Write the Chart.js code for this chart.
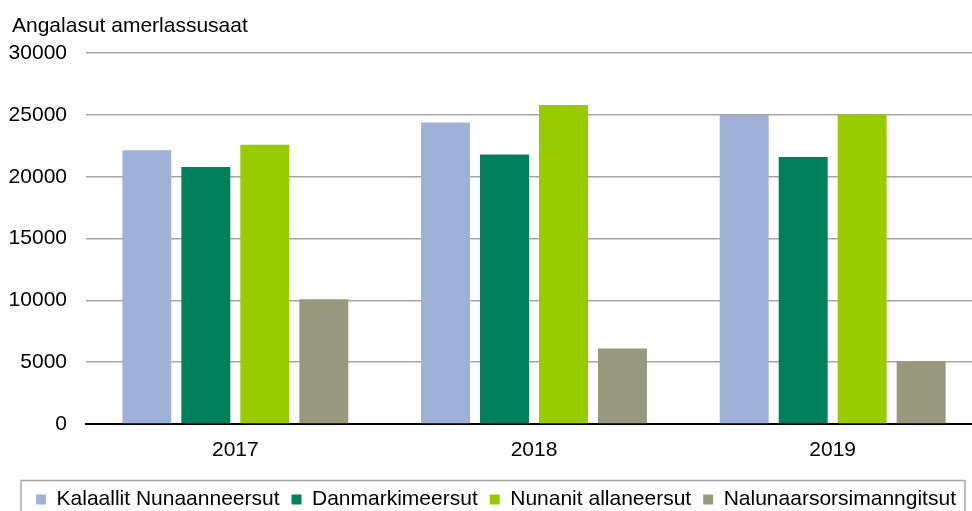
<!DOCTYPE html>
<html>
<head>
<meta charset="utf-8">
<script src="https://cdn.jsdelivr.net/npm/chart.js@4/dist/chart.umd.min.js"></script>
<style>
    html, body { margin: 0; padding: 0; background: #fff; overflow: hidden; }
    #wrap { width: 982px; height: 520px; }
</style>
</head>
<body>
<div id="wrap"><canvas id="chart" width="982" height="520"></canvas></div>
<script>
    // values
    const years = ['2017', '2018', '2019'];
    const kalaallit = [22150, 24400, 25000];
    const danmarki = [20800, 21800, 21600];
    const nunanit = [22600, 25800, 25050];
    const nalunaar = [10100, 6100, 5100];

    const seriesNames = ['Kalaallit Nunaanneersut', 'Danmarkimeersut', 'Nunanit allaneersut', 'Nalunaarsorsimanngitsut'];
    const seriesColors = ['#9fb1d6', '#00805a', '#99cc00', '#97997e'];
    const yTicks = [0, 5000, 10000, 15000, 20000, 25000, 30000];

    const FONT = "'Liberation Sans', Arial, sans-serif";

    // nudge the title in from the left edge, shift the legend a bit right and frame it
    const layoutTweaks = {
        id: 'layoutTweaks',
        afterLayout: function(chart) {
            if (chart.titleBlock) chart.titleBlock.left = 12;
            if (chart.legend) {
                chart.legend.left += 5;
                chart.legend.right += 5;
            }
        },
        afterDraw: function(chart) {
            const lg = chart.legend;
            if (!lg || !lg.legendHitBoxes || !lg.legendHitBoxes.length) return;
            let minX = Infinity, maxX = -Infinity, top = Infinity;
            lg.legendHitBoxes.forEach(function(b) {
                minX = Math.min(minX, b.left);
                maxX = Math.max(maxX, b.left + b.width);
                top = Math.min(top, b.top);
            });
            const ctx = chart.ctx;
            ctx.save();
            ctx.strokeStyle = '#a6a6a6';
            ctx.lineWidth = 1.5;
            ctx.strokeRect(minX - 15, top - 8.5, (maxX + 9) - (minX - 15), 60);
            ctx.restore();
        }
    };

    const datasets = [kalaallit, danmarki, nunanit, nalunaar].map(function(vals, i) {
        return {
            label: seriesNames[i],
            data: vals,
            backgroundColor: seriesColors[i],
            borderWidth: 0,
            categoryPercentage: 0.79,
            barPercentage: 0.83
        };
    });

    new Chart(document.getElementById('chart'), {
        type: 'bar',
        data: { labels: years, datasets: datasets },
        plugins: [layoutTweaks],
        options: {
            responsive: false,
            animation: false,
            devicePixelRatio: 1,
            layout: { padding: { left: 0, right: 0, top: 14, bottom: 0 } },
            plugins: {
                tooltip: { enabled: false },
                title: {
                    display: true,
                    text: 'Angalasut amerlassusaat',
                    align: 'start',
                    color: '#000',
                    font: { family: FONT, size: 21, weight: 'normal', lineHeight: 1.2 },
                    padding: { top: 0, bottom: 14 }
                },
                legend: {
                    position: 'bottom',
                    labels: {
                        color: '#000',
                        font: { family: FONT, size: 21 },
                        boxWidth: 10,
                        boxHeight: 10,
                        padding: 12
                    }
                }
            },
            scales: {
                x: {
                    afterFit: function(scale) { scale.height = 53; },
                    grid: { display: false, drawTicks: false },
                    border: { color: '#000', width: 2 },
                    ticks: {
                        color: '#000',
                        padding: 14,
                        font: { family: FONT, size: 21 }
                    }
                },
                y: {
                    min: 0,
                    max: 30000,
                    afterFit: function(scale) { scale.width = 86; },
                    afterBuildTicks: function(scale) {
                        scale.ticks = yTicks.map(function(v) { return { value: v }; });
                    },
                    grid: { color: '#a6a6a6', lineWidth: 1.5, drawTicks: false },
                    border: { display: false },
                    ticks: {
                        color: '#000',
                        padding: 19,
                        font: { family: FONT, size: 21 },
                        callback: function(v) { return String(v); }
                    }
                }
            }
        }
    });
</script>
</body>
</html>
